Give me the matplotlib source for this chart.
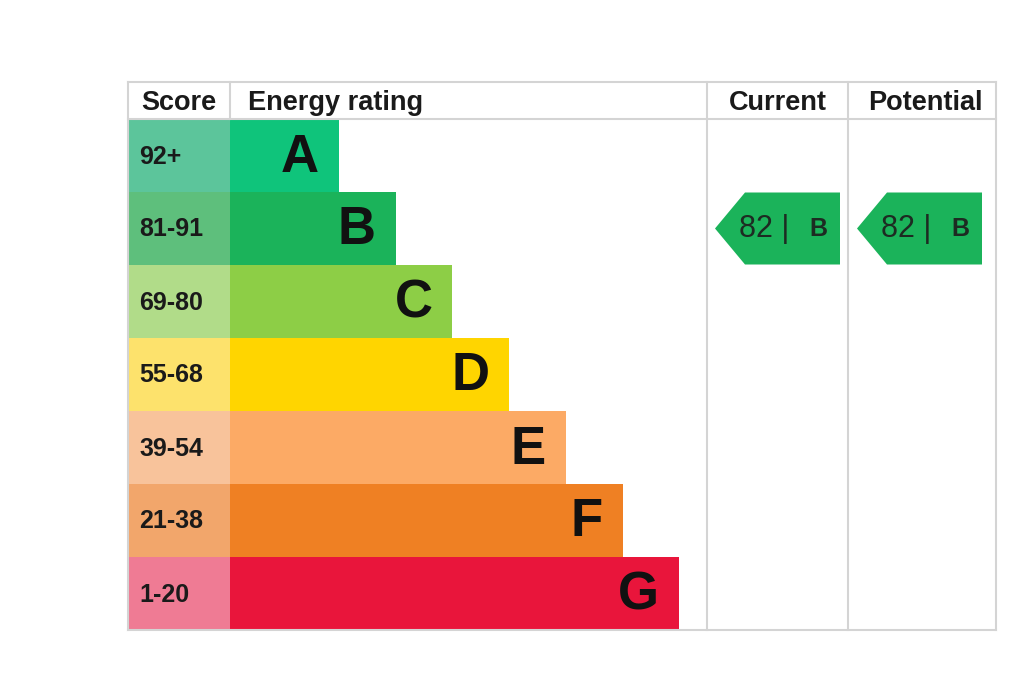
import matplotlib
matplotlib.use("Agg")
import matplotlib.pyplot as plt
from matplotlib.patches import Polygon

plt.rcParams["font.family"] = ["Liberation Sans", "DejaVu Sans"]

# data
bands = ["A", "B", "C", "D", "E", "F", "G"]
score_ranges = ["92+", "81-91", "69-80", "55-68", "39-54", "21-38", "1-20"]
band_colors = ["#0fc47b", "#1bb35a", "#8dce46", "#ffd500", "#fcaa65", "#ef8023", "#e9153b"]
score_colors = ["#5cc59b", "#5ebf7c", "#b1dc89", "#fde26c", "#f8c39b", "#f2a66b", "#ef7b94"]
headers = ["Score", "Energy rating", "Current", "Potential"]
current_score, current_band = 82, "B"
potential_score, potential_band = 82, "B"

# layout (pixels)
W, H = 1024, 683
left, right, top, bottom = 128, 996, 82, 630
head_h = 37
col_x = [128, 230, 707, 848, 996]
row_h = (bottom - top - head_h) / len(bands)
bar_step = 56.7
first_end = 339

fig = plt.figure(figsize=(W / 100, H / 100), dpi=100)
ax = fig.add_axes([0, 0, 1, 1])
ax.set_xlim(0, W)
ax.set_ylim(H, 0)
ax.axis("off")

line_c = "#d4d4d4"
# borders
ax.plot([left, right], [top, top], color=line_c, lw=1.5)
ax.plot([left, right], [bottom, bottom], color=line_c, lw=1.5)
ax.plot([left, right], [top + head_h, top + head_h], color=line_c, lw=1.5)
ax.plot([left, left], [top, bottom], color=line_c, lw=1.5)
ax.plot([230, 230], [top, top + head_h], color=line_c, lw=1.5)
for x in col_x[2:]:
    ax.plot([x, x], [top, bottom], color=line_c, lw=1.5)

# headers
head_y = top + head_h / 2 + 2
hkw = dict(va="center", fontsize=19.5, fontweight="bold", color="#1a1a1a")
ax.text(179, head_y, headers[0], ha="center", **hkw)
ax.text(248, head_y, headers[1], ha="left", **hkw)
ax.text(778, head_y, headers[2], ha="center", **hkw)
ax.text(925, head_y, headers[3], ha="center", **hkw)

centers = [top + head_h + row_h * (i + 0.5) for i in range(len(bands))]
ends = [first_end + bar_step * i for i in range(len(bands))]

ax.barh(centers, [col_x[1] - col_x[0]] * len(bands), left=col_x[0], height=row_h,
        color=score_colors, edgecolor="none")
ax.barh(centers, [e - col_x[1] for e in ends], left=col_x[1], height=row_h,
        color=band_colors, edgecolor="none")

for i, (b, s) in enumerate(zip(bands, score_ranges)):
    ax.text(139, centers[i] + 1, s, ha="left", va="center", fontsize=18, fontweight="bold", color="#1a1a1a")
    ax.text(ends[i] - 20, centers[i] + 2, b, ha="right", va="center", fontsize=38, fontweight="bold", color="#111111")


def arrow(x0, x1, score, band):
    i = bands.index(band)
    yc = centers[i]
    h = row_h - 1
    tip = 30
    pts = [(x0, yc), (x0 + tip, yc - h / 2), (x1, yc - h / 2), (x1, yc + h / 2), (x0 + tip, yc + h / 2)]
    ax.add_patch(Polygon(pts, closed=True, facecolor=band_colors[i], edgecolor="none"))
    ax.text(x0 + 24, yc + 1, f"{score} |", ha="left", va="center", fontsize=22, color="#1d2b22")
    ax.text(x1 - 13, yc + 1, band, ha="right", va="center", fontsize=18, fontweight="bold", color="#1d2b22")


arrow(715, 840, current_score, current_band)
arrow(857, 982, potential_score, potential_band)

fig.savefig("out.png", dpi=100)
